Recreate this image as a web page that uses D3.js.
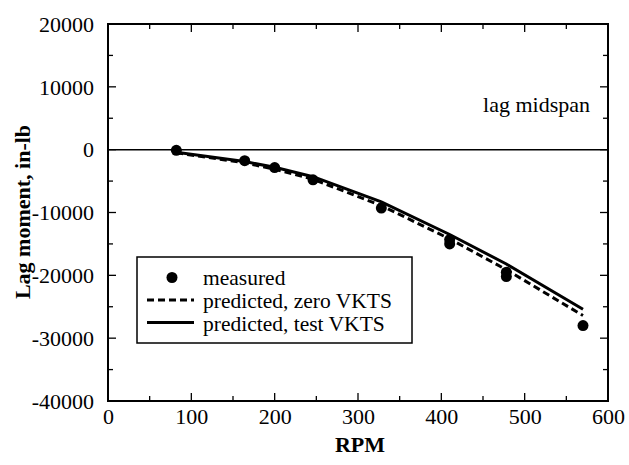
<!DOCTYPE html>
<html><head><meta charset="utf-8">
<script src="https://cdn.jsdelivr.net/npm/d3@7"></script>
<style>body{margin:0;background:#fff}svg{display:block}text{font-family:"Liberation Serif","Times New Roman",serif}</style>
</head><body><svg id="c" width="629" height="465"></svg>
<script>
const measuredRPM = [82, 164, 200, 246, 328, 410, 410, 478, 478, 570];
const measuredVal = [-100, -1750, -2850, -4800, -9300, -14300, -15000, -19500, -20200, -28000];
const curveRPM = [82, 164, 200, 246, 328, 410, 478, 570];
const zeroVKTS = [-500, -2100, -3100, -4700, -8900, -14200, -19100, -26400];
const testVKTS = [-400, -1900, -2800, -4300, -8300, -13500, -18200, -25400];
const xTicks = [0, 100, 200, 300, 400, 500, 600];
const yTicks = [20000, 10000, 0, -10000, -20000, -30000, -40000];
const legendLabels = ["measured", "predicted, zero VKTS", "predicted, test VKTS"];

const svg = d3.select("#c");
const L = 108, R = 608, T = 24, B = 401;
const x = d3.scaleLinear().domain([0, 600]).range([L, R]);
const y = d3.scaleLinear().domain([-40000, 20000]).range([B, T]);
const fs = 22;

const xMinor = d3.range(0, 601, 50), yMinor = d3.range(-40000, 20001, 5000);
function tickLen(v, step) { return v % step === 0 ? 8 : 5; }
const gT = svg.append("g");
xMinor.forEach(v => {
  const l = tickLen(v, 100);
  gT.append("line").attr("x1", x(v)).attr("x2", x(v)).attr("y1", B).attr("y2", B - l).attr("stroke", "#000").attr("stroke-width", 1.3);
  gT.append("line").attr("x1", x(v)).attr("x2", x(v)).attr("y1", T).attr("y2", T + l).attr("stroke", "#000").attr("stroke-width", 1.3);
});
yMinor.forEach(v => {
  const l = tickLen(v, 10000);
  gT.append("line").attr("y1", y(v)).attr("y2", y(v)).attr("x1", L).attr("x2", L + l).attr("stroke", "#000").attr("stroke-width", 1.3);
  gT.append("line").attr("y1", y(v)).attr("y2", y(v)).attr("x1", R).attr("x2", R - l).attr("stroke", "#000").attr("stroke-width", 1.3);
});

const gx = svg.append("g").attr("transform", `translate(0,${B})`)
  .call(d3.axisBottom(x).tickValues(xTicks).tickSize(0).tickPadding(0).tickFormat(d3.format("d")));
gx.select(".domain").remove();
gx.selectAll("text").attr("font-size", fs).attr("dy", 0).attr("y", 23).attr("fill", "#000")
  .style("font-family", '"Liberation Serif",serif');
const gy = svg.append("g").attr("transform", `translate(${L},0)`)
  .call(d3.axisLeft(y).tickValues(yTicks).tickSize(0).tickPadding(0).tickFormat(d => d3.format("d")(d).replace("−", "-")));
gy.select(".domain").remove();
gy.selectAll("text").attr("font-size", fs).attr("x", -14).attr("dy", "0.33em").attr("fill", "#000")
  .style("font-family", '"Liberation Serif",serif');

svg.append("line").attr("x1", L).attr("x2", R).attr("y1", y(0)).attr("y2", y(0)).attr("stroke", "#000").attr("stroke-width", 1.5);

svg.append("rect").attr("x", L).attr("y", T).attr("width", R - L).attr("height", B - T)
  .attr("fill", "none").attr("stroke", "#000").attr("stroke-width", 2);

const line = d3.line().x(d => x(d[0])).y(d => y(d[1]));
svg.append("path").datum(curveRPM.map((r, i) => [r, zeroVKTS[i]])).attr("d", line)
  .attr("fill", "none").attr("stroke", "#000").attr("stroke-width", 3).attr("stroke-dasharray", "7,4");
svg.append("path").datum(curveRPM.map((r, i) => [r, testVKTS[i]])).attr("d", line)
  .attr("fill", "none").attr("stroke", "#000").attr("stroke-width", 3);

svg.append("g").selectAll("circle").data(measuredRPM.map((r, i) => [r, measuredVal[i]])).join("circle")
  .attr("cx", d => x(d[0])).attr("cy", d => y(d[1])).attr("r", 5.5).attr("fill", "#000");

svg.append("text").attr("x", 590).attr("y", 112).attr("text-anchor", "end").attr("font-size", fs).text("lag midspan");

const lg = svg.append("g");
lg.append("rect").attr("x", 137).attr("y", 257).attr("width", 275).attr("height", 86)
  .attr("fill", "#fff").attr("stroke", "#000").attr("stroke-width", 1.5);
lg.append("circle").attr("cx", 172).attr("cy", 277.5).attr("r", 5.5).attr("fill", "#000");
lg.append("line").attr("x1", 147).attr("x2", 194).attr("y1", 300).attr("y2", 300).attr("stroke", "#000").attr("stroke-width", 3).attr("stroke-dasharray", "7,4");
lg.append("line").attr("x1", 147).attr("x2", 194).attr("y1", 322.5).attr("y2", 322.5).attr("stroke", "#000").attr("stroke-width", 3);
legendLabels.forEach((t, i) => {
  lg.append("text").attr("x", 203).attr("y", 285 + i * 23.2).attr("font-size", 21.5).text(t);
});

svg.append("text").attr("x", 360).attr("y", 452).attr("text-anchor", "middle").attr("font-size", fs).attr("font-weight", "bold").text("RPM");
svg.append("text").attr("transform", "translate(30,212) rotate(-90)").attr("text-anchor", "middle").attr("font-size", fs).attr("font-weight", "bold").text("Lag moment, in-lb");
</script></body></html>
